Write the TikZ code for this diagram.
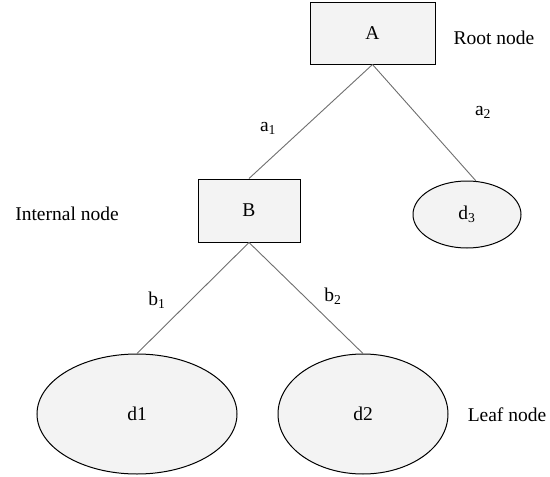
\documentclass[tikz,border=0pt]{standalone}
\usepackage{fontspec}
\setmainfont{Liberation Serif}
\usetikzlibrary{shapes.geometric}
\definecolor{nodefill}{RGB}{243,243,243}
\definecolor{edgegray}{RGB}{110,110,110}
\tikzset{
  every node/.style={font=\fontsize{19.5}{22}\selectfont},
  boxnode/.style={draw=black, fill=nodefill, line width=1pt, rectangle, inner sep=0pt},
  leafnode/.style={draw=black, fill=nodefill, line width=1pt, ellipse, inner sep=0pt},
  edge/.style={draw=edgegray, line width=0.9pt},
  lbl/.style={inner sep=0pt}
}
\begin{document}
\begin{tikzpicture}[x=1pt,y=-1pt]
\useasboundingbox (0,0) rectangle (550,477);
\node[boxnode, minimum width=125pt, minimum height=62pt] (A) at (372.5,33) {A};
\node[boxnode, minimum width=102pt, minimum height=63pt] (B) at (249,210.5) {B};
\node[leafnode, minimum width=108pt, minimum height=67pt] (d3) at (467,214.5) {d\textsubscript{3}};
\node[leafnode, minimum width=200pt, minimum height=120pt] (d1) at (137,414) {d1};
\node[leafnode, minimum width=170pt, minimum height=120pt] (d2) at (363,414) {d2};
\draw[edge] (A.south) -- (B.north);
\draw[edge] (A.south) -- (d3.75);
\draw[edge] (B.south) -- (d1.north);
\draw[edge] (B.south) -- (d2.north);
\node[lbl] (a1) at (268,128) {a\textsubscript{1}};
\node[lbl] (a2) at (483,112) {a\textsubscript{2}};
\node[lbl] (b1) at (157,300) {b\textsubscript{1}};
\node[lbl] (b2) at (333,296) {b\textsubscript{2}};
\node[lbl] (root) at (494,38) {Root node};
\node[lbl] (internal) at (67,214) {Internal node};
\node[lbl] (leaf) at (507,415) {Leaf node};
\end{tikzpicture}
\end{document}
